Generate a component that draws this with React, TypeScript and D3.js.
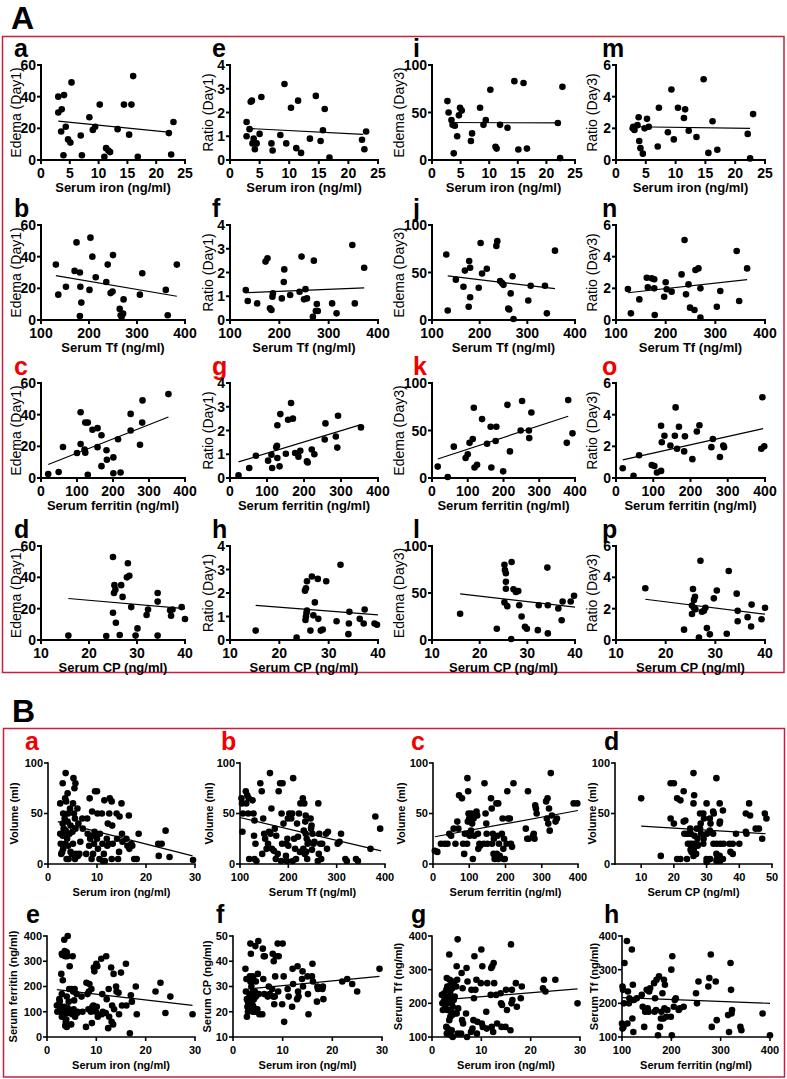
import React from 'react';
import * as d3 from 'd3';

type Pt = [number, number];

// ---------- panel A: tick values ----------
const ironTicksA = [0, 5, 10, 15, 20, 25];
const tfTicks = [100, 200, 300, 400];
const ferritinTicksA = [0, 100, 200, 300, 400];
const cpTicksA = [10, 20, 30, 40];
const edemaD1Ticks = [0, 20, 40, 60];
const ratioD1Ticks = [0, 1, 2, 3, 4];
const edemaD3Ticks = [0, 50, 100];
const ratioD3Ticks = [0, 2, 4, 6];

// ---------- panel A: row 1, serum iron ----------
const aA: Pt[] = [[3,40],[3,30],[3.6,32],[4,41],[3.5,18],[4.3,21],[3.9,3],[4.7,13],[5.1,11],[5.3,49],[6.9,15.5],[7.1,3],[8.4,27],[9,19],[9.4,21],[10.2,35],[11,2],[11.3,7.5],[11.7,6],[12,5],[13.3,19.5],[14.4,35],[15.3,16],[15.7,35],[16,53],[16.8,2],[22.2,17],[22.6,3.5],[23,24]];
const aE: Pt[] = [[2.8,1.6],[2.8,1.0],[3.3,1.3],[3.5,2.45],[3.7,2.5],[3.8,0.7],[4.0,0.9],[4.2,0.45],[4.5,0.7],[5.0,1.1],[5.3,2.65],[7.0,0.7],[7.2,0.4],[8.5,1.05],[9.2,3.2],[9.5,0.7],[10.3,2.2],[11.2,0.5],[11.5,2.5],[12,0.3],[13.5,0.9],[14.5,2.7],[15.3,0.8],[15.7,1.25],[16,2.15],[16.8,0.1],[22.3,0.85],[22.7,0.45],[23,1.2]];
const aI: Pt[] = [[2.7,62],[2.9,50],[3.4,42],[3.6,37],[4.0,36],[3.8,7],[4.4,25],[4.7,47],[4.9,55],[5.2,52],[6.8,20],[7,28],[8.4,55],[9,37],[9.4,42],[10.2,74],[11.1,14],[11.3,12],[11.9,37],[13.2,34],[14.4,83],[15.1,11],[16,81],[16.6,12],[22,39],[22.4,2],[22.8,77]];
const aM: Pt[] = [[2.8,2.0],[2.9,2.1],[3.1,1.9],[3.6,2.2],[3.8,2.7],[3.9,1.2],[4.1,0.75],[4.5,0.4],[4.8,2.0],[5.2,2.6],[5.5,2.1],[7,0.85],[7.2,3.3],[8.7,1.75],[9.3,4.45],[9.7,1.3],[10.4,3.3],[11.4,2.65],[11.6,3.2],[12.2,1.85],[13.5,1.45],[14.7,5.1],[15.5,0.45],[16.2,2.45],[17,0.65],[22.1,1.65],[22.5,0.1],[23,2.9]];

// ---------- panel A: row 2, serum Tf ----------
const aB: Pt[] = [[131,35],[136,16],[152,21],[170,31],[174,49],[181,30],[182,21],[184,11],[181,2.5],[201,19],[203,52],[207,40],[214,27],[236,24],[239,35],[245,17],[249,18],[250,41],[264,7],[266,3],[268,2],[271,4],[272,13],[306,16],[311,29.5],[360,19],[364,3],[383,35]];
const aF: Pt[] = [[132,1.26],[136,0.8],[155,0.7],[172,2.46],[176,2.6],[181,0.49],[184,0.42],[186,0.98],[187,1.12],[205,0.91],[209,1.6],[210,2.13],[222,1.05],[241,1.19],[245,2.67],[250,0.87],[253,1.3],[256,0.91],[268,0.14],[270,2.5],[274,0.38],[276,0.67],[278,0.38],[307,0.7],[316,0.28],[348,3.16],[353,0.7],[372,2.2]];
const aJ: Pt[] = [[130,69],[133,10],[150,42.5],[166,35],[169,52],[178,62],[180,55],[180,24],[177,14],[198,34],[202,81],[205,49],[215,54],[235,78],[237,83],[243,41],[247,39],[250,37],[260,12],[262,11],[265,28],[269,46],[271,1],[302,20.5],[307,36],[337,36],[341,7],[358,73]];
const aN: Pt[] = [[124,1.96],[130,0.42],[147,1.3],[162,2.67],[164,2.06],[172,2.63],[177,2.57],[177,2.0],[178,0.32],[197,1.47],[200,2.38],[202,1.94],[212,1.79],[232,2.88],[238,5.05],[241,1.62],[246,2.25],[249,0.78],[258,0.63],[260,3.16],[266,3.26],[270,2.0],[270,0.15],[303,0.84],[310,1.83],[343,4.36],[348,1.2],[364,3.26]];

// ---------- panel A: row 3, serum ferritin ----------
const aC: Pt[] = [[20,2.5],[49,3.8],[61,19.6],[100,15.8],[110,41.5],[110,21.5],[121,18],[123,16],[123,35],[130,35],[130,2],[143,30.5],[157,31.5],[157,19.5],[168,7.5],[168,27],[182,17.5],[183,11.5],[201,3],[201,13],[221,3.5],[214,24.5],[249,40.5],[249,30],[275,21],[281,35],[282,49],[354,53]];
const aG: Pt[] = [[23,0.11],[52,0.42],[70,0.94],[103,0.73],[112,0.98],[114,0.42],[125,1.29],[127,1.36],[128,0.84],[128,2.22],[134,0.49],[136,2.69],[151,1.02],[157,2.45],[165,3.16],[170,2.5],[176,1.05],[185,0.9],[190,1.15],[208,0.7],[210,0.65],[221,1.2],[228,1.0],[256,1.62],[258,2.3],[286,1.75],[290,1.28],[292,2.62],[354,2.13]];
const aK: Pt[] = [[16,12],[44,1],[61,33],[94,21],[100,25],[105,37],[114,41],[117,74],[119,11],[126,14],[140,62],[154,36],[164,54],[166,11],[178,39],[180,54],[199,7],[211,77],[218,28],[248,50],[252,81],[271,50],[278,69],[272,42],[377,37],[381,82],[393,47]];
const aO: Pt[] = [[18,0.62],[47,0.14],[62,1.44],[96,0.82],[103,0.76],[110,0.35],[121,0.45],[121,3.3],[123,2.26],[130,2.67],[146,2.05],[158,2.67],[160,4.46],[164,1.85],[169,3.24],[183,1.68],[185,2.63],[205,1.19],[217,2.94],[224,3.33],[256,1.95],[260,2.46],[279,1.33],[288,2.05],[290,1.95],[390,1.85],[393,5.1],[398,2.0]];

// ---------- panel A: row 4, serum CP ----------
const aD: Pt[] = [[15.7,2.8],[23.6,2.6],[25,17.4],[25,53],[25.2,30],[25.3,35],[25.5,32],[25.6,11],[26.4,3.2],[26.7,35],[27,27.5],[27.9,40],[28.4,41],[28.1,49],[28.8,21],[29.7,2.8],[30.1,7.4],[32,16],[32.3,19.5],[34.3,30],[34.3,24.5],[34.3,2.8],[36.9,19],[37.1,15.5],[37.4,19.5],[39.3,21],[40,13.4]];
const aH: Pt[] = [[15.2,0.4],[23.5,0.1],[25.2,2.1],[25.4,2.2],[25.6,2.5],[25.3,0.85],[25.4,1.0],[25.5,1.15],[25.6,1.25],[26.3,0.4],[26.6,2.7],[26.9,1.05],[27.2,1.6],[27.8,2.6],[27.9,0.9],[28.4,0.4],[28.8,0.45],[29.5,2.5],[31.6,0.8],[32.4,3.2],[34.2,1.2],[34.1,0.7],[34.0,0.25],[36.3,0.9],[37.1,0.7],[37.3,1.3],[39.3,0.7],[39.8,0.65]];
const aL: Pt[] = [[15.9,28],[23.6,12],[25.2,80],[25.3,74.5],[25.5,71],[25.5,62],[25.5,54.5],[25.2,40],[25.8,36],[26.6,1],[26.7,83],[27.1,54],[27.6,51],[28.1,52],[28.3,37],[28.8,25],[29.5,14],[29.9,12],[32.2,10.5],[32.4,37],[34.2,77],[34.3,37],[34.3,7],[36.5,33.5],[37.2,21],[37.4,41],[39.1,41],[39.8,47]];
const aP: Pt[] = [[15.9,3.3],[23.7,0.66],[25.3,2.2],[25.5,3.26],[25.7,2.56],[25.9,2.76],[25.7,2.06],[25.3,1.66],[26,1.96],[26.7,0.16],[27,5.06],[27.3,1.8],[27.7,1.86],[28,2.06],[28.3,0.76],[28.9,0.36],[29.7,2.66],[30.3,3.16],[32.3,0.4],[32.7,4.4],[34.3,2.96],[34.5,1.86],[34.5,1.2],[36.5,1.46],[37.2,0.86],[37.3,2.26],[39.3,1.32],[40,2.06]];

// ---------- panel A: regression lines ----------
const fitA: Record<string, Pt[]> = {
  a: [[3,24.5],[22.5,17.5]], e: [[3,1.33],[22.5,1.08]], i: [[3,39.5],[22.5,39]], m: [[3,2.1],[22.5,2.0]],
  b: [[131,28],[383,15]], f: [[132,1.15],[372,1.35]], j: [[133,46.5],[358,33]], n: [[124,1.72],[364,2.55]],
  c: [[20,8.5],[354,38.5]], g: [[23,0.68],[354,2.25]], k: [[16,20],[381,65]], o: [[18,1.15],[395,3.12]],
  d: [[15.7,26.5],[40,20]], h: [[15.2,1.47],[40,1.07]], l: [[15.9,49],[40,35]], p: [[15.9,2.6],[40,1.65]],
};

// ---------- panel B: tick values ----------
const ironTicksB = [0, 10, 20, 30];
const ferritinTicksB = [0, 100, 200, 300, 400];
const cpTicksB = [10, 20, 30, 40, 50];
const volumeTicks = [0, 50, 100];
const ferritinYTicks = [0, 100, 200, 300, 400];
const cpYTicks = [10, 20, 30, 40, 50];
const tfYTicks = [100, 200, 300, 400];

const bA: Pt[] = [[2.5,60],[2.5,30],[2.6,20],[2.7,10],[3,80],[3.1,50],[3,40],[3.2,35],[3,28],[3.1,15],[2.9,12],[3.6,90],[3.5,65],[3.7,62],[3.4,45],[3.6,33],[3.5,20],[3.8,5],[4,70],[4.1,50],[4,42],[4.2,30],[3.9,25],[4.1,18],[4.2,5],[4.5,55],[4.6,38],[4.4,30],[4.6,12],[5.2,85],[5.1,60],[5,32],[4.9,10],[5.1,20],[5.3,50],[5.6,80],[5.4,75],[5.5,45],[5.6,35],[5.7,10],[5.5,5],[6,55],[6.2,40],[6.1,8],[6.6,22],[6.4,10],[7.1,35],[7,45],[8,45],[8.1,30],[7.8,10],[8.5,65],[8.6,25],[8.4,18],[9,52],[9.1,28],[9.2,10],[8.9,5],[9.6,72],[9.5,32],[9.4,20],[9.7,30],[10,72],[10.1,50],[10,25],[10.2,15],[10.6,30],[10.5,5],[11,50],[11.1,20],[11.2,3],[11.5,63],[11.6,3],[11.4,10],[12,25],[12.1,18],[12.2,40],[12.6,65],[12.5,50],[12.4,20],[13,62],[13.1,38],[13.2,20],[13,5],[14,50],[14.1,25],[14.3,5],[14.6,47],[14.5,12],[15,60],[15.1,30],[15.2,22],[16,25],[16.2,18],[16.5,48],[16.6,15],[17,20],[17.2,18],[17.6,5],[18.1,5],[18.5,30],[22.5,20],[22.6,8],[23.2,20],[24,33],[24.8,7],[29.6,4]];
const bB: Pt[] = [[103,65],[104,60],[106,50],[105,32],[112,72],[115,68],[118,65],[113,60],[117,50],[119,5],[126,63],[128,50],[130,43],[129,28],[132,20],[130,5],[134,3],[142,80],[145,72],[148,45],[150,30],[152,25],[146,10],[155,15],[162,90],[165,55],[160,32],[163,30],[158,20],[166,15],[172,35],[175,28],[170,13],[178,10],[174,5],[180,72],[183,80],[188,80],[186,50],[190,40],[187,20],[185,3],[196,20],[198,25],[200,18],[197,3],[199,45],[202,50],[195,8],[210,85],[208,50],[212,25],[206,45],[214,15],[209,3],[218,40],[220,27],[222,50],[224,12],[216,5],[225,60],[230,65],[233,60],[235,42],[232,33],[236,30],[238,25],[240,20],[231,15],[237,12],[234,10],[239,5],[236,48],[241,22],[246,45],[248,38],[250,30],[252,20],[249,14],[254,22],[247,35],[262,60],[264,30],[266,20],[263,10],[268,5],[261,3],[270,20],[278,30],[282,32],[280,15],[302,20],[306,22],[309,30],[318,5],[321,3],[340,5],[344,3],[370,15],[380,47],[390,35]];
const bC: Pt[] = [[5,13],[12,12],[22,20],[32,20],[40,20],[45,30],[50,28],[57,35],[62,20],[67,42],[70,35],[72,68],[80,65],[83,20],[86,10],[88,30],[95,85],[97,72],[98,50],[100,45],[96,42],[99,30],[101,28],[94,20],[106,50],[108,40],[105,33],[110,5],[112,45],[114,28],[120,52],[122,48],[125,15],[128,20],[124,30],[130,18],[142,80],[145,50],[148,30],[140,20],[150,20],[147,40],[160,65],[162,55],[165,30],[168,25],[163,20],[167,10],[170,5],[175,60],[180,60],[178,28],[182,20],[176,10],[184,8],[180,5],[190,30],[192,45],[195,5],[198,5],[194,15],[196,25],[205,72],[207,45],[203,20],[212,45],[215,20],[222,80],[218,17],[256,35],[260,25],[264,25],[262,72],[276,28],[280,25],[282,58],[284,55],[286,50],[278,30],[312,62],[316,65],[320,55],[314,45],[318,40],[322,33],[325,90],[328,48],[338,42],[342,45],[388,60],[398,60]];
const bD: Pt[] = [[10,65],[16,8],[19,80],[20,80],[19,45],[20,40],[21,65],[21,5],[22,63],[22,5],[23,72],[23.5,43],[23,42],[23.2,30],[24,30],[24.3,20],[24,5],[24.5,30],[25,35],[25.2,30],[25,20],[25.3,18],[25.1,14],[25.4,12],[26,90],[26.2,68],[26,60],[26.3,28],[25.8,20],[26.1,15],[26.4,10],[26,8],[27,35],[27.2,25],[27,20],[27.3,18],[26.8,10],[28,50],[28.2,40],[28,35],[28.3,30],[29,50],[29.2,45],[29.1,25],[29,20],[30,60],[30.1,30],[30,5],[30.2,3],[30,2],[31,45],[31.2,40],[31,33],[31.1,5],[32,52],[32.2,50],[32,30],[32.1,20],[33,85],[33.1,20],[33,10],[33.2,5],[33,3],[34,60],[34.1,42],[34,40],[34.2,20],[34,8],[34.1,3],[35,53],[35,5],[35.2,20],[37,20],[37.3,12],[38,20],[38,10],[39,30],[40,20],[42,50],[42.2,30],[42,32],[43,60],[43.3,48],[45,35],[46,35],[47,25],[47.8,50],[48.3,45]];
const bE: Pt[] = [[2,125],[2.1,100],[2.5,150],[2.6,140],[2.4,130],[2.7,115],[3,330],[3.1,325],[2.9,250],[3.2,225],[3,170],[3.1,100],[3.2,90],[3,80],[3.5,385],[3.6,340],[3.4,330],[3.7,320],[3.5,120],[3.6,100],[3.8,60],[3.7,45],[4.2,400],[4,335],[4.1,320],[4,160],[4.2,115],[4.1,95],[3.9,70],[4,40],[4.6,280],[4.5,190],[4.4,140],[4.6,100],[5.2,320],[5,190],[5.1,90],[4.9,50],[5.3,180],[5.6,190],[5.5,145],[5.4,110],[5.7,80],[6,170],[6.2,100],[6.1,95],[7,160],[7.2,100],[8,215],[8.2,170],[7.9,40],[8.6,210],[8.5,180],[8.4,110],[9,190],[9.2,120],[9.1,55],[8.9,100],[9.5,275],[9.6,260],[9.4,125],[9.7,110],[10,290],[10.2,280],[10.1,120],[9.9,100],[10.3,80],[11,310],[11.2,170],[11.1,90],[11.3,100],[12,320],[12.1,150],[11.9,95],[12.5,190],[12.6,80],[12.4,35],[13,275],[13.1,60],[13.2,125],[13.5,250],[13.6,110],[13.4,50],[14,200],[14.1,180],[14.5,175],[14.6,90],[15,255],[15.2,125],[16,290],[16.1,125],[16.8,15],[17,165],[17.2,140],[18,200],[18.2,90],[22,180],[23,215],[24,95],[25,160],[29.5,90]];
const bF: Pt[] = [[2.5,37],[2.7,33],[2.6,28],[2.8,25],[3,24],[2.9,22],[3,20],[2.8,18],[3.5,47],[3.6,43],[3.4,34],[3.5,32],[3.7,30],[3.3,27],[3.6,26],[3.4,24],[3.5,22],[3.7,21],[4,34],[4.1,33],[4,28],[4.2,25],[3.9,23],[4.1,22],[4,20],[4.5,46],[4.6,32],[4.4,28],[4.6,26],[4.5,20],[5.1,48],[5,35],[5.2,27],[4.9,21],[5.3,19],[6,45],[6.2,42],[6.4,42],[6.1,33],[6.3,27],[5.9,19],[7,26],[7.2,30],[7.4,27],[8,43],[8.2,40],[7.9,29],[8.1,26],[8.3,23],[8.6,42],[8.5,34],[8.4,26],[9,47],[9.2,42],[9.1,28],[10,47],[10.2,34],[9.9,23],[10.3,16],[11,29],[11.2,26],[12,37],[12.1,31],[11.9,22],[13,38],[13.1,28],[12.9,25],[13.2,26],[14,36],[14.1,30],[13.9,33],[15,34],[15.1,27],[15.2,19],[16,39],[15.9,34],[16.1,32],[17,30],[17.1,29],[16.9,24],[18,29],[18.2,25],[18.1,30],[22,32],[23,33],[24,31],[25,28],[29.5,37]];
const bG: Pt[] = [[2,225],[2.1,200],[2.2,180],[2.5,230],[2.6,215],[2.4,205],[2.7,190],[3,275],[3.1,250],[2.9,240],[3.2,210],[3,200],[3.1,180],[2.9,130],[3.2,125],[3,110],[3.5,345],[3.6,270],[3.4,250],[3.7,235],[3.5,220],[3.6,210],[3.4,180],[3.7,160],[3.5,150],[3.6,110],[3.8,105],[4,260],[4.1,245],[4,200],[4.2,190],[3.9,175],[4.1,165],[4,120],[4.2,100],[4.5,265],[4.6,220],[4.4,210],[4.6,170],[5.2,390],[5,310],[5.1,270],[4.9,250],[5.3,185],[5,170],[5.2,110],[6,290],[6.2,245],[6.1,150],[6.3,140],[5.9,110],[7,305],[7.2,265],[6.9,170],[7.1,100],[8,240],[8.2,125],[7.9,115],[8.6,340],[8.5,215],[8.4,150],[8.8,240],[9,270],[9.2,145],[9.1,110],[10,360],[10.2,310],[9.9,260],[10.1,140],[10.3,130],[11,175],[11.2,260],[11.1,125],[12,305],[12.2,310],[11.9,225],[12.1,130],[12.5,320],[12.6,260],[12.4,115],[13,225],[13.2,140],[14,200],[14.2,195],[13.9,230],[14.1,130],[15,240],[15.2,180],[14.9,130],[16,375],[16.2,240],[16.1,200],[15.9,120],[16.3,210],[17,260],[17.2,190],[18,215],[18.2,250],[22.5,245],[22.7,270],[23,235],[25,270],[29.5,200]];
const bH: Pt[] = [[101,250],[102,240],[104,200],[100,140],[103,130],[101,125],[105,320],[110,385],[112,235],[114,200],[111,140],[115,215],[120,360],[122,255],[124,210],[121,155],[123,115],[130,215],[140,225],[142,190],[145,130],[147,175],[150,240],[152,185],[155,235],[157,245],[154,175],[165,260],[167,215],[169,180],[170,270],[166,175],[175,280],[173,105],[177,130],[180,175],[182,230],[179,155],[185,270],[187,255],[186,185],[184,155],[190,160],[192,180],[200,300],[202,340],[199,160],[201,105],[205,190],[207,210],[209,215],[215,180],[217,185],[225,190],[250,230],[252,200],[255,265],[275,250],[277,275],[280,345],[282,130],[290,265],[292,150],[315,165],[317,115],[320,320],[322,170],[321,240],[323,180],[340,130],[342,120],[385,170],[400,105]];

const fitB: Record<string, Pt[]> = {
  a: [[2,42],[29.5,8]], b: [[100,46],[392,13]], c: [[5,27],[400,53]], d: [[10,37.5],[48,30]],
  e: [[2,188],[29.5,125]], f: [[3,29],[29.5,34]], g: [[2,210],[29.5,243]], h: [[100,217],[400,200]],
};

// ---------- styles ----------
const FONT = "Arial, 'Liberation Sans', Helvetica, sans-serif";
const LETTER_RED = '#f00000';
const BOX_RED = '#c8203c';

interface Style { tick: number; title: number; yTitle: number; yTitleW: string; letter: number; r: number; axisW: number; fitW: number; tickLen: number; }
const styleA: Style = { tick: 14, title: 13, yTitle: 14, yTitleW: 'normal', letter: 25, r: 3.3, axisW: 2, fitW: 1.2, tickLen: 4 };
const styleB: Style = { tick: 11, title: 11, yTitle: 11, yTitleW: 'bold', letter: 25, r: 3.3, axisW: 1.6, fitW: 1.2, tickLen: 4 };

interface PlotProps {
  left: number; right: number; top: number; bottom: number;
  xDomain: [number, number]; yDomain: [number, number];
  xTicks: number[]; yTicks: number[];
  pts: Pt[]; fit: Pt[];
  xTitle: string; yTitle: string; yTitleX: number;
  letter: string; letterX: number; letterY: number; red?: boolean; st: Style;
}

function Scatter(p: PlotProps) {
  const x = d3.scaleLinear().domain(p.xDomain).range([p.left, p.right]);
  const y = d3.scaleLinear().domain(p.yDomain).range([p.bottom, p.top]);
  const line = d3.line<Pt>().x(d => x(d[0])).y(d => y(d[1]));
  const st = p.st;
  return (
    <g fontFamily={FONT}>
      <text x={p.letterX} y={p.letterY} fontSize={st.letter} fontWeight="bold" fill={p.red ? LETTER_RED : '#000'}>{p.letter}</text>
      {p.pts.map((d, i) => <circle key={i} cx={x(d[0])} cy={y(d[1])} r={st.r} fill="#000" />)}
      <path d={line(p.fit) || ''} stroke="#000" strokeWidth={st.fitW} fill="none" />
      <line x1={p.left} x2={p.left} y1={p.top} y2={p.bottom} stroke="#000" strokeWidth={st.axisW} strokeLinecap="square" />
      <line x1={p.left} x2={p.right} y1={p.bottom} y2={p.bottom} stroke="#000" strokeWidth={st.axisW} strokeLinecap="square" />
      {p.yTicks.map(t => (
        <g key={'y' + t}>
          <line x1={p.left - st.tickLen} x2={p.left} y1={y(t)} y2={y(t)} stroke="#000" strokeWidth={st.axisW} />
          <text x={p.left - st.tickLen - 1} y={y(t)} dy="0.36em" textAnchor="end" fontSize={st.tick} fontWeight="bold">{t}</text>
        </g>
      ))}
      {p.xTicks.map(t => (
        <g key={'x' + t}>
          <line x1={x(t)} x2={x(t)} y1={p.bottom} y2={p.bottom + st.tickLen} stroke="#000" strokeWidth={st.axisW} />
          <text x={x(t)} y={p.bottom + 13} dy="0.36em" textAnchor="middle" fontSize={st.tick} fontWeight="bold">{t}</text>
        </g>
      ))}
      <text x={(p.left + p.right) / 2} y={p.bottom + 32} textAnchor="middle" fontSize={st.title} fontWeight="bold">{p.xTitle}</text>
      <text transform={`translate(${p.yTitleX},${(p.top + p.bottom) / 2}) rotate(-90)`} dy="0.36em" textAnchor="middle" fontSize={st.yTitle} fontWeight={st.yTitleW}>{p.yTitle}</text>
    </g>
  );
}

// panel A grid
const colsA = [[41, 185], [230, 378], [432, 575], [616, 765]];
const rowsA = [[65, 160], [225, 320], [383, 478], [546, 640]];
const letterXA = [14, 212, 413, 602];
const yTitleXA = [16, 208, 399, 592];
const yLabelsA = ['Edema (Day1)', 'Ratio (Day1)', 'Edema (Day3)', 'Ratio (Day3)'];
const yDomainsA: [number, number][] = [[0, 60], [0, 4], [0, 100], [0, 6]];
const yTicksA = [edemaD1Ticks, ratioD1Ticks, edemaD3Ticks, ratioD3Ticks];
const rowDefsA = [
  { xTitle: 'Serum iron (ng/ml)', xDomain: [0, 25] as [number, number], xTicks: ironTicksA, data: [aA, aE, aI, aM], letters: ['a', 'e', 'i', 'm'], red: false },
  { xTitle: 'Serum Tf (ng/ml)', xDomain: [100, 400] as [number, number], xTicks: tfTicks, data: [aB, aF, aJ, aN], letters: ['b', 'f', 'j', 'n'], red: false },
  { xTitle: 'Serum ferritin (ng/ml)', xDomain: [0, 400] as [number, number], xTicks: ferritinTicksA, data: [aC, aG, aK, aO], letters: ['c', 'g', 'k', 'o'], red: true },
  { xTitle: 'Serum CP (ng/ml)', xDomain: [10, 40] as [number, number], xTicks: cpTicksA, data: [aD, aH, aL, aP], letters: ['d', 'h', 'l', 'p'], red: false },
];

// panel B
const plotsB = [
  { l: 48, r: 195, t: 763, b: 864, xd: [0, 30], yd: [0, 100], xt: ironTicksB, yt: volumeTicks, pts: bA, f: 'a', xT: 'Serum iron (ng/ml)', yT: 'Volume (ml)', yx: 14, lx: 25, red: true },
  { l: 240, r: 385, t: 763, b: 864, xd: [100, 400], yd: [0, 100], xt: tfTicks, yt: volumeTicks, pts: bB, f: 'b', xT: 'Serum Tf (ng/ml)', yT: 'Volume (ml)', yx: 209, lx: 221, red: true },
  { l: 433, r: 578, t: 763, b: 864, xd: [0, 400], yd: [0, 100], xt: ferritinTicksB, yt: volumeTicks, pts: bC, f: 'c', xT: 'Serum ferritin (ng/ml)', yT: 'Volume (ml)', yx: 401, lx: 411, red: true },
  { l: 615, r: 772, t: 763, b: 864, xd: [2, 50], yd: [0, 100], xt: cpTicksB, yt: volumeTicks, pts: bD, f: 'd', xT: 'Serum CP (ng/ml)', yT: 'Volume (ml)', yx: 592, lx: 604, red: false },
  { l: 47, r: 195, t: 936, b: 1037, xd: [0, 30], yd: [0, 400], xt: ironTicksB, yt: ferritinYTicks, pts: bE, f: 'e', xT: 'Serum iron (ng/ml)', yT: 'Serum ferritin (ng/ml)', yx: 13, lx: 26, red: false },
  { l: 233, r: 382, t: 936, b: 1037, xd: [0, 30], yd: [10, 50], xt: ironTicksB, yt: cpYTicks, pts: bF, f: 'f', xT: 'Serum iron (ng/ml)', yT: 'Serum CP (ng/ml)', yx: 207, lx: 216, red: false },
  { l: 432, r: 580, t: 936, b: 1037, xd: [0, 30], yd: [100, 400], xt: ironTicksB, yt: tfYTicks, pts: bG, f: 'g', xT: 'Serum iron (ng/ml)', yT: 'Serum Tf (ng/ml)', yx: 398, lx: 411, red: false },
  { l: 622, r: 770, t: 936, b: 1037, xd: [100, 400], yd: [100, 400], xt: tfTicks, yt: tfYTicks, pts: bH, f: 'h', xT: 'Serum ferritin (ng/ml)', yT: 'Serum Tf (ng/ml)', yx: 594, lx: 604, red: false },
];

export default function App() {
  return (
    <svg width={787} height={1079} style={{ position: 'absolute', left: 0, top: 0, background: '#fff' }} fontFamily={FONT}>
      <rect x={0} y={0} width={787} height={1079} fill="#fff" />
      <text x={11} y={29} fontSize={32} fontWeight="bold">A</text>
      <rect x={2.5} y={36.5} width={781.5} height={636} fill="none" stroke={BOX_RED} strokeWidth={1.5} />
      {rowDefsA.map((row, ri) =>
        row.data.map((pts, ci) => (
          <Scatter key={row.letters[ci]}
            left={colsA[ci][0]} right={colsA[ci][1]} top={rowsA[ri][0]} bottom={rowsA[ri][1]}
            xDomain={row.xDomain} yDomain={yDomainsA[ci]} xTicks={row.xTicks} yTicks={yTicksA[ci]}
            pts={pts} fit={fitA[row.letters[ci]]}
            xTitle={row.xTitle} yTitle={yLabelsA[ci]} yTitleX={yTitleXA[ci]}
            letter={row.letters[ci]} letterX={letterXA[ci]} letterY={rowsA[ri][0] - 8} red={row.red} st={styleA} />
        ))
      )}
      <text x={12} y={722} fontSize={32} fontWeight="bold">B</text>
      <rect x={3.5} y={728.5} width={781} height={348.5} fill="none" stroke={BOX_RED} strokeWidth={1.5} />
      {plotsB.map(p => (
        <Scatter key={'B' + p.f}
          left={p.l} right={p.r} top={p.t} bottom={p.b}
          xDomain={p.xd as [number, number]} yDomain={p.yd as [number, number]} xTicks={p.xt} yTicks={p.yt}
          pts={p.pts} fit={fitB[p.f]} xTitle={p.xT} yTitle={p.yT} yTitleX={p.yx}
          letter={p.f} letterX={p.lx} letterY={p.t - 13} red={p.red} st={styleB} />
      ))}
    </svg>
  );
}
